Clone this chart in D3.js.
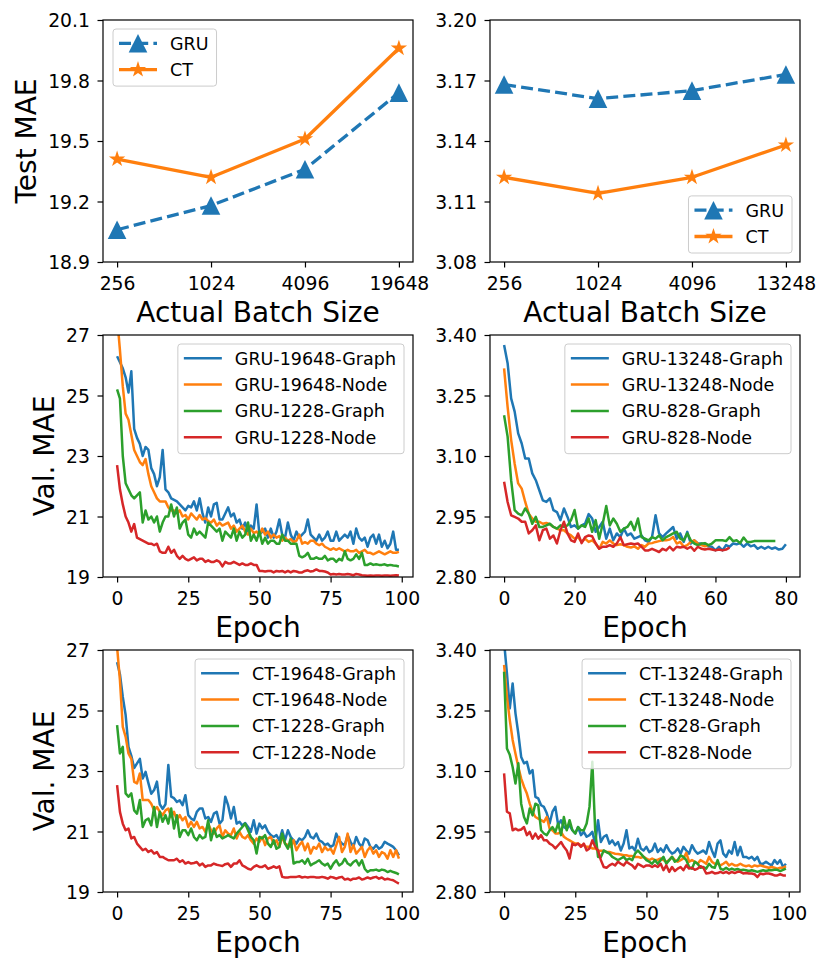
<!DOCTYPE html>
<html>
<head>
<meta charset="utf-8">
<script src="https://cdn.jsdelivr.net/npm/d3@7"></script>
<style>
  body { margin: 0; background: #fff; }
  svg { display: block; font-family: "DejaVu Sans", sans-serif; }
</style>
</head>
<body>
<div id="chart"></div>
<script>
// ---------- data ----------
const batchLabelsA = ["256", "1024", "4096", "19648"];
const batchLabelsB = ["256", "1024", "4096", "13248"];
const testGruA = [19.06, 19.18, 19.36, 19.74];
const testCtA  = [19.41, 19.32, 19.51, 19.96];
const testGruB = [3.168, 3.161, 3.165, 3.173];
const testCtB  = [3.122, 3.114, 3.122, 3.138];

const yTicksTestA = [18.9, 19.2, 19.5, 19.8, 20.1];
const yTicksTestB = [3.08, 3.11, 3.14, 3.17, 3.20];
const yTicksValA = [19, 21, 23, 25, 27];
const yTicksValB = [2.80, 2.95, 3.10, 3.25, 3.40];
const xTicksEpoch100 = [0, 25, 50, 75, 100];
const xTicksEpoch80 = [0, 20, 40, 60, 80];

// GRU validation curves (left: 19648 / 1228)
const gru19648Graph = [
  26.3, 26.1, 25.9, 25.6, 25.1, 25.8, 23.9, 23.6, 23.4, 23.0,
  23.3, 23.2, 22.6, 22.4, 22.0, 22.3, 23.2, 21.9, 21.8, 21.6,
  21.55, 21.5, 21.4, 21.3, 21.2, 21.35, 21.3, 21.5, 21.2, 21.6,
  21.1, 20.8, 21.3, 21.0, 21.4, 21.45, 20.9, 20.9, 21.1, 21.3,
  21.0, 21.1, 20.8, 20.9, 20.6, 20.8, 20.5, 20.7, 20.6, 21.4,
  20.4, 20.5, 20.6, 20.3, 20.6, 20.3, 20.5, 20.9, 20.4, 20.3,
  20.8, 20.4, 20.2, 20.5, 20.3, 20.4, 20.5, 20.9, 20.4, 20.3,
  20.2, 20.4, 20.2, 20.3, 20.5, 20.2, 20.2, 20.5, 20.2, 20.3,
  20.4, 20.3, 20.5, 20.1, 20.6, 20.3, 20.2, 20.3, 20.0, 20.3,
  20.4, 20.1, 20.4, 20.0, 20.2, 19.95, 20.1, 20.5, 19.9, 19.9
];
const gru19648Node = [
  27.6, 26.5, 25.3, 24.4, 24.2, 23.7, 23.2, 23.0, 22.8, 22.7,
  22.9, 22.4, 22.0, 21.8, 21.6, 21.5, 21.5, 21.5, 21.3, 21.2,
  21.2, 21.1, 21.2, 21.0, 21.05, 20.9, 21.1, 21.0, 20.9, 21.05,
  20.9, 20.95, 20.85, 20.8, 20.9, 20.7, 20.8, 20.7, 20.75, 20.8,
  20.6, 20.7, 20.5, 20.6, 20.7, 20.5, 20.4, 20.6, 20.45, 20.5,
  20.4, 20.6, 20.4, 20.5, 20.3, 20.4, 20.3, 20.35, 20.2, 20.3,
  20.2, 20.25, 20.15, 20.2, 20.4, 20.1, 20.15, 20.1, 20.2, 20.2,
  20.1, 20.05, 20.1, 20.0, 19.95, 19.9, 19.95, 19.9, 19.95, 19.9,
  19.85, 19.9, 19.85, 19.85, 19.9, 19.8, 19.85, 19.9, 19.8, 19.8,
  19.75, 19.8, 19.85, 19.8, 19.75, 19.8, 19.85, 19.8, 19.8, 19.83
];
const gru1228Graph = [
  25.2, 24.9, 23.0, 22.1, 21.9, 21.7, 21.6, 21.7, 21.8, 20.8,
  21.2, 20.9, 21.0, 20.8, 21.0, 20.5, 20.8, 21.0, 21.0, 21.4,
  21.0, 21.3, 20.6, 20.8, 20.9, 20.4, 20.3, 20.6, 20.4, 20.5,
  20.4, 20.3, 20.8, 20.7, 20.6, 20.5, 20.6, 20.2, 20.5, 20.4,
  20.3, 20.6, 20.2, 20.5, 20.3, 20.4, 20.8, 20.2, 20.4, 20.2,
  20.5, 20.1, 20.3, 20.1, 20.2, 20.2, 20.1, 20.1, 20.4, 20.2,
  20.2, 20.1, 20.1, 20.1, 19.7, 19.65, 19.7, 19.8, 19.6, 19.6,
  19.65, 19.6, 19.6, 19.7, 19.55, 19.6, 19.6, 19.5, 19.6, 19.55,
  19.85, 19.6, 19.55, 19.6, 19.75, 19.6, 19.8, 19.4, 19.4, 19.45,
  19.4, 19.42, 19.4, 19.4, 19.42, 19.38, 19.4, 19.38, 19.37, 19.35
];
const gru1228Node = [
  22.7, 21.9, 21.4, 21.0, 20.8, 20.5, 20.75, 20.3, 20.25, 20.2,
  20.15, 20.1, 20.1, 20.05, 20.1, 19.85, 19.8, 19.8, 20.0, 19.8,
  19.9, 19.7, 19.6, 19.7, 19.6, 19.55, 19.6, 19.65, 19.55, 19.6,
  19.6, 19.5, 19.55, 19.5, 19.5, 19.55, 19.5, 19.35, 19.5, 19.45,
  19.45, 19.5, 19.45, 19.4, 19.45, 19.4, 19.4, 19.45, 19.4, 19.4,
  19.2, 19.2, 19.18, 19.2, 19.2, 19.15, 19.2, 19.18, 19.2, 19.15,
  19.2, 19.15, 19.2, 19.18, 19.15, 19.15, 19.2, 19.22, 19.18, 19.2,
  19.25, 19.2, 19.2, 19.18, 19.15, 19.08, 19.1, 19.08, 19.1, 19.08,
  19.08, 19.1, 19.08, 19.06, 19.1, 19.08, 19.06, 19.05, 19.04, 19.05,
  19.04, 19.05, 19.05, 19.04, 19.05, 19.05, 19.04, 19.05, 19.06, 19.05
];

// GRU validation curves (right: 13248 / 828)
const gru13248Graph = [
  3.375, 3.330, 3.243, 3.210, 3.156, 3.131, 3.094, 3.094, 3.057, 3.040,
  3.015, 2.990, 2.986, 2.995, 2.966, 2.961, 2.941, 2.970, 2.949, 2.924,
  2.928, 2.920, 2.928, 2.932, 2.956, 2.945, 2.912, 2.924, 2.937, 2.895,
  2.920, 2.891, 2.908, 2.899, 2.920, 2.903, 2.908, 2.895, 2.899, 2.903,
  2.891, 2.887, 2.899, 2.953, 2.908, 2.899, 2.908, 2.916, 2.924, 2.895,
  2.908, 2.887, 2.912, 2.883, 2.891, 2.883, 2.883, 2.879, 2.876, 2.875,
  2.866, 2.875, 2.866, 2.879, 2.875, 2.883, 2.881, 2.884, 2.875, 2.883,
  2.876, 2.879, 2.870, 2.875, 2.870, 2.875, 2.870, 2.873, 2.868, 2.870,
  2.881
];
const gru13248Node = [
  3.317, 3.222, 3.140, 3.081, 3.032, 3.019, 2.986, 2.957, 2.945, 2.937,
  2.937, 2.932, 2.934, 2.931, 2.924, 2.920, 2.916, 2.916, 2.908, 2.903,
  2.895, 2.899, 2.887, 2.895, 2.887, 2.891, 2.883, 2.870, 2.887, 2.883,
  2.891, 2.883, 2.879, 2.881, 2.879, 2.875, 2.873, 2.876, 2.870, 2.879,
  2.875, 2.883, 2.884, 2.887, 2.889, 2.891, 2.891, 2.893, 2.899, 2.883,
  2.887, 2.875, 2.879, 2.887, 2.891, 2.883, 2.879, 2.876, 2.879
];
const gru828Graph = [
  3.201, 3.148, 3.040, 2.966, 2.957, 2.953, 2.970, 2.957, 2.932, 2.949,
  2.924, 2.924, 2.928, 2.932, 2.924, 2.920, 2.928, 2.924, 2.928, 2.941,
  2.966, 2.920, 2.928, 2.924, 2.945, 2.912, 2.941, 2.895, 2.932, 2.976,
  2.928, 2.945, 2.932, 2.912, 2.920, 2.924, 2.937, 2.916, 2.945, 2.899,
  2.895, 2.891, 2.899, 2.895, 2.903, 2.891, 2.899, 2.903, 2.908, 2.912,
  2.895, 2.891, 2.908, 2.891, 2.883, 2.879, 2.883, 2.884, 2.879, 2.883,
  2.891, 2.891, 2.891, 2.889, 2.899, 2.889, 2.891, 2.884, 2.898, 2.887,
  2.887, 2.889, 2.889, 2.889, 2.889, 2.889, 2.889, 2.889
];
const gru828Node = [
  3.036, 2.986, 2.953, 2.949, 2.945, 2.937, 2.937, 2.908, 2.916, 2.928,
  2.891, 2.916, 2.920, 2.895, 2.903, 2.883, 2.916, 2.937, 2.908, 2.891,
  2.887, 2.908, 2.884, 2.899, 2.903, 2.901, 2.883, 2.870, 2.875, 2.875,
  2.879, 2.875, 2.883, 2.899, 2.879, 2.881, 2.883, 2.881, 2.883, 2.875,
  2.866, 2.866, 2.870, 2.866, 2.862, 2.870, 2.866, 2.875, 2.866, 2.875,
  2.873, 2.875, 2.870, 2.875, 2.865, 2.875, 2.870, 2.868, 2.870, 2.868,
  2.866, 2.868, 2.866, 2.868, 2.873
];

// CT validation curves (left: 19648 / 1228)
const ct19648Graph = [
  26.6, 26.2, 25.45, 24.85, 23.8, 23.5, 23.1, 23.25, 23.4, 22.75,
  22.97, 22.6, 22.25, 22.37, 22.65, 21.9, 21.75, 21.9, 23.2, 22.15,
  22.1, 21.98, 22.03, 21.87, 22.2, 21.54, 21.43, 21.37, 21.65, 21.76,
  21.76, 21.43, 21.48, 21.32, 21.59, 21.65, 21.26, 21.37, 22.15, 21.87,
  21.43, 21.81, 21.26, 21.32, 21.2, 21.28, 21.15, 20.99, 21.37, 20.93,
  21.26, 21.1, 21.2, 20.99, 20.88, 20.82, 20.88, 20.71, 21.04, 20.71,
  21.04, 20.82, 20.71, 20.6, 20.77, 20.71, 20.82, 21.04, 20.82, 20.77,
  20.93, 20.71, 20.66, 20.55, 20.6, 20.49, 20.55, 20.93, 20.71, 20.6,
  20.55, 20.88, 20.66, 20.49, 20.82, 20.6, 20.49, 20.77, 20.71, 20.49,
  20.43, 20.55, 20.43, 20.49, 20.66, 20.6, 20.55, 20.49, 20.38, 20.21
];
const ct19648Node = [
  27.1, 26.0, 24.46, 24.13, 23.58, 23.4, 22.64, 22.59, 22.92, 22.04,
  22.04, 22.04, 21.92, 21.7, 21.81, 21.65, 21.54, 21.7, 21.76, 21.48,
  21.65, 21.37, 21.54, 21.37, 21.48, 21.15, 21.32, 21.15, 21.32, 21.1,
  21.15, 20.99, 21.26, 21.04, 20.93, 21.1, 21.2, 20.82, 21.04, 20.93,
  20.88, 21.1, 20.77, 20.99, 20.82, 20.77, 20.88, 20.71, 20.6, 20.77,
  20.66, 20.82, 20.55, 20.77, 20.82, 20.6, 20.71, 20.49, 20.82, 20.6,
  20.55, 20.49, 20.71, 20.38, 20.55, 20.66, 20.38, 20.6, 20.27, 20.49,
  20.43, 20.6, 20.32, 20.49, 20.38, 20.43, 20.27, 20.55, 20.82, 20.32,
  20.49, 20.93, 20.32, 20.55, 20.27, 20.38, 20.49, 20.16, 20.38, 20.49,
  20.27, 20.38, 20.16, 20.32, 20.27, 20.1, 20.38, 20.16, 20.38, 20.1
];
const ct1228Graph = [
  24.52, 23.58, 23.8, 22.26, 22.15, 22.26, 21.7, 21.59, 22.04, 21.15,
  21.37, 21.43, 21.2, 21.81, 21.15, 21.65, 21.32, 21.54, 21.26, 21.76,
  21.1, 21.54, 20.82, 21.04, 21.04, 20.88, 21.1, 20.82, 20.71, 20.88,
  20.77, 20.82, 21.37, 20.71, 21.1, 20.82, 20.88, 20.77, 20.82, 20.88,
  20.82, 20.77, 20.93, 21.04, 21.15, 21.26, 21.04, 20.82, 20.71, 20.27,
  20.82, 20.77, 20.88, 20.6, 20.49, 20.71, 20.43, 20.49, 20.93, 20.6,
  20.43, 20.77, 19.94, 19.99, 19.99, 20.05, 19.94, 20.1, 19.88, 19.94,
  19.99, 20.05, 19.94, 19.88, 19.94, 19.77, 19.94, 20.05, 19.88, 19.94,
  20.1, 19.94, 19.88, 19.99, 20.05, 19.88, 20.05, 19.77, 19.66, 19.72,
  19.72, 19.74, 19.7, 19.74, 19.72, 19.66, 19.7, 19.66, 19.63, 19.58
];
const ct1228Node = [
  22.53, 21.65, 21.26, 21.04, 21.1, 20.77, 20.82, 20.6, 20.49, 20.38,
  20.43, 20.32, 20.38, 20.27, 20.32, 20.16, 20.16, 20.1, 20.05, 20.05,
  20.05, 20.1, 19.99, 20.05, 19.94, 19.99, 19.94, 19.96, 19.99, 19.88,
  19.94, 19.83, 19.88, 19.88, 19.94, 19.9, 19.88, 19.86, 19.92, 19.94,
  19.83, 19.94, 19.94, 20.05, 19.88, 19.83, 19.77, 19.74, 19.83, 19.88,
  19.83, 19.83, 19.88, 19.77, 19.8, 19.85, 19.8, 19.85, 19.5, 19.48,
  19.48, 19.5, 19.5, 19.5, 19.52, 19.48, 19.5, 19.48, 19.5, 19.5,
  19.48, 19.48, 19.5, 19.48, 19.44, 19.5, 19.48, 19.44, 19.48, 19.5,
  19.41, 19.44, 19.39, 19.44, 19.44, 19.48, 19.41, 19.44, 19.48, 19.44,
  19.48, 19.5, 19.44, 19.48, 19.41, 19.44, 19.41, 19.39, 19.33, 19.28
];

// CT validation curves (right: 13248 / 828)
const ct13248Graph = [
  3.420, 3.342, 3.255, 3.317, 3.243, 3.193, 3.135, 3.119, 3.123, 3.094,
  3.102, 3.036, 3.032, 3.015, 3.011, 2.995, 2.970, 2.999, 3.011, 2.966,
  2.978, 2.961, 2.957, 2.966, 2.953, 2.945, 2.961, 2.941, 2.949, 2.937,
  2.941, 2.949, 2.920, 2.978, 2.924, 2.937, 2.941, 2.920, 2.928, 2.916,
  2.924, 2.903, 2.920, 2.953, 2.908, 2.912, 2.903, 2.932, 2.908, 2.903,
  2.912, 2.899, 2.903, 2.920, 2.899, 2.908, 2.899, 2.916, 2.903, 2.895,
  2.899, 2.908, 2.895, 2.912, 2.903, 2.895, 2.916, 2.903, 2.895, 2.899,
  2.903, 2.895, 2.924, 2.903, 2.887, 2.920, 2.928, 2.895, 2.887, 2.903,
  2.895, 2.924, 2.891, 2.912, 2.887, 2.887, 2.883, 2.887, 2.879, 2.887,
  2.870, 2.870, 2.875, 2.870, 2.866, 2.879, 2.870, 2.879, 2.862, 2.870
];
const ct13248Node = [
  3.363, 3.284, 3.226, 3.177, 3.143, 3.110, 3.081, 3.061, 3.044, 3.019,
  2.999, 2.986, 2.982, 2.978, 2.974, 2.986, 2.957, 2.953, 2.945, 2.945,
  2.949, 2.937, 2.932, 2.928, 2.924, 2.920, 2.920, 2.916, 2.916, 2.912,
  2.912, 2.908, 2.908, 2.903, 2.902, 2.902, 2.899, 2.899, 2.897, 2.895,
  2.894, 2.893, 2.891, 2.891, 2.889, 2.889, 2.887, 2.887, 2.885, 2.887,
  2.883, 2.879, 2.883, 2.879, 2.880, 2.883, 2.879, 2.875, 2.879, 2.887,
  2.879, 2.875, 2.879, 2.883, 2.897, 2.875, 2.879, 2.875, 2.870, 2.879,
  2.875, 2.870, 2.887, 2.875, 2.870, 2.870, 2.866, 2.870, 2.875, 2.866,
  2.870, 2.866, 2.866, 2.870, 2.866, 2.864, 2.866, 2.862, 2.866, 2.864,
  2.866, 2.864, 2.862, 2.860, 2.862, 2.860, 2.858, 2.860, 2.860, 2.864
];
const ct828Graph = [
  3.346, 3.156, 3.140, 3.110, 3.069, 3.119, 3.019, 2.986, 2.970, 3.007,
  2.990, 3.019, 3.015, 2.953, 2.945, 2.941, 2.953, 2.961, 2.949, 2.970,
  2.941, 2.986, 2.953, 2.978, 2.953, 2.945, 2.961, 2.953, 2.953, 2.970,
  3.011, 3.123, 2.953, 2.887, 2.887, 2.903, 2.899, 2.895, 2.887, 2.883,
  2.879, 2.883, 2.887, 2.879, 2.883, 2.879, 2.895, 2.903, 2.895, 2.887,
  2.879, 2.875, 2.870, 2.879, 2.870, 2.879, 2.887, 2.870, 2.879, 2.887,
  2.875, 2.879, 2.891, 2.887, 2.879, 2.862, 2.858, 2.875, 2.870, 2.860,
  2.862, 2.858, 2.870, 2.862, 2.860, 2.879, 2.858, 2.855, 2.860, 2.855,
  2.858, 2.855, 2.857, 2.854, 2.855, 2.854, 2.852, 2.854, 2.852, 2.850,
  2.852, 2.854, 2.852, 2.854, 2.854, 2.855, 2.855, 2.852, 2.855, 2.858
];
const ct828Node = [
  3.094, 2.999, 2.995, 2.953, 2.957, 2.953, 2.955, 2.961, 2.941, 2.949,
  2.932, 2.945, 2.932, 2.941, 2.928, 2.928, 2.920, 2.916, 2.908, 2.916,
  2.924, 2.912, 2.903, 2.883, 2.920, 2.916, 2.920, 2.912, 2.920, 2.903,
  2.908, 2.928, 2.912, 2.903, 2.879, 2.862, 2.860, 2.866, 2.870, 2.866,
  2.875, 2.870, 2.866, 2.875, 2.870, 2.866, 2.858, 2.870, 2.866, 2.862,
  2.866, 2.866, 2.862, 2.866, 2.862, 2.870, 2.854, 2.866, 2.850, 2.862,
  2.852, 2.858, 2.862, 2.854, 2.866, 2.858, 2.860, 2.855, 2.858, 2.864,
  2.860, 2.846, 2.847, 2.850, 2.846, 2.847, 2.850, 2.847, 2.850, 2.846,
  2.850, 2.847, 2.850, 2.850, 2.846, 2.847, 2.846, 2.846, 2.844, 2.837,
  2.846, 2.844, 2.846, 2.846, 2.844, 2.841, 2.841, 2.844, 2.841, 2.841
];

// ---------- layout ----------
const W = 830, H = 971;
const colX = [103, 490];
const rowY = [20, 335, 650];
const PW = 310, PH = 242;
const C = { blue: "#1f77b4", orange: "#ff7f0e", green: "#2ca02c", red: "#d62728" };
const TICK_FS = 18.8, LABEL_FS = 28, LEGEND_FS = 17.5;

const svg = d3.select("#chart").append("svg").attr("width", W).attr("height", H);
svg.append("rect").attr("width", W).attr("height", H).attr("fill", "#fff");
const defs = svg.append("defs");

function markerPath(type) {
  if (type === "tri") return "M0,-9.3L9.3,9.3L-9.3,9.3Z";
  const pts = d3.range(10).map(k => {
    const r = k % 2 ? 8.6 * 0.382 : 8.6;
    const a = -Math.PI / 2 + k * Math.PI / 5;
    return [r * Math.cos(a), r * Math.sin(a)];
  });
  return "M" + pts.join("L") + "Z";
}

function drawPanel(o) {
  const g = svg.append("g").attr("transform", `translate(${o.left},${o.top})`);
  const x = d3.scaleLinear().domain(o.xDomain).range([0, PW]);
  const y = d3.scaleLinear().domain(o.yDomain).range([PH, 0]);

  defs.append("clipPath").attr("id", "clip-" + o.id)
    .append("rect").attr("width", PW).attr("height", PH);
  const plot = g.append("g").attr("clip-path", `url(#clip-${o.id})`);

  const xAxis = g.append("g").attr("transform", `translate(0,${PH})`)
    .call(d3.axisBottom(x).tickValues(o.xTicks).tickFormat(o.xFmt).tickSize(5.5).tickSizeOuter(0));
  const yAxis = g.append("g")
    .call(d3.axisLeft(y).tickValues(o.yTicks).tickFormat(o.yFmt).tickSize(5.5).tickSizeOuter(0));

  [xAxis, yAxis].forEach(a => {
    a.attr("font-family", null).attr("font-size", null);
    a.select(".domain").remove();
    a.selectAll(".tick line").attr("stroke", "#000").attr("stroke-width", 1.2);
    a.selectAll(".tick text").attr("fill", "#000").style("font-size", TICK_FS + "px");
  });
  xAxis.selectAll(".tick text").attr("y", 28).attr("dy", null);
  yAxis.selectAll(".tick text").attr("x", -13).attr("dy", "0.36em");

  g.append("rect").attr("width", PW).attr("height", PH)
    .attr("fill", "none").attr("stroke", "#000").attr("stroke-width", 1.2);

  g.append("text")
    .attr("x", PW / 2).attr("y", PH + 59.5)
    .attr("text-anchor", "middle")
    .style("font-size", LABEL_FS + "px")
    .text(o.xLabel);

  if (o.yLabel) {
    const bb = yAxis.node().getBBox();
    g.append("text")
      .attr("transform", `translate(${bb.x - 12.5},${PH / 2}) rotate(-90)`)
      .attr("text-anchor", "middle")
      .style("font-size", LABEL_FS + "px")
      .text(o.yLabel);
  }
  return { g, plot, x, y };
}

function drawLegend(g, items, pos) {
  const lg = g.append("g");
  const rowH = 26.3, handleLen = 38, gap = 13, padL = 6, padR = 8, topOff = 14.3, botOff = 16.5;

  const texts = items.map(it => lg.append("text").style("font-size", LEGEND_FS + "px").text(it.label));
  const tw = d3.max(texts, t => t.node().getComputedTextLength());
  const bw = padL + handleLen + gap + tw + padR;
  const bh = topOff + (items.length - 1) * rowH + botOff;

  let bx, by;
  if (pos === "ur") { bx = PW - 9 - bw; by = 9; }
  else if (pos === "ul") { bx = 10; by = 9; }
  else { bx = PW - 8 - bw; by = PH - 9 - bh; }

  lg.insert("rect", ":first-child")
    .attr("x", bx).attr("y", by).attr("width", bw).attr("height", bh)
    .attr("rx", 3).attr("fill", "#fff").attr("fill-opacity", 0.8)
    .attr("stroke", "#cccccc").attr("stroke-width", 1);

  items.forEach((it, i) => {
    const cy = by + topOff + i * rowH;
    const hx = bx + padL;
    lg.insert("line", "text")
      .attr("x1", hx).attr("x2", hx + handleLen).attr("y1", cy).attr("y2", cy)
      .attr("stroke", it.color).attr("stroke-width", it.lw)
      .attr("stroke-dasharray", it.dash || null);
    if (it.marker) {
      lg.insert("path", "text")
        .attr("d", markerPath(it.marker))
        .attr("transform", `translate(${hx + handleLen / 2},${cy})`)
        .attr("fill", it.color);
    }
    texts[i].attr("x", hx + handleLen + gap).attr("y", cy).attr("dy", "0.36em").attr("fill", "#000");
  });
}

// ---------- top row: test MAE vs batch size ----------
function drawTestPanel(id, col, labels, yTicks, yFmt, gru, ct, legendPos, yLabel) {
  const p = drawPanel({
    id, left: colX[col], top: rowY[0],
    xDomain: [-0.15, labels.length - 1 + 0.15],
    yDomain: d3.extent(yTicks),
    xTicks: d3.range(labels.length), xFmt: i => labels[i],
    yTicks, yFmt, xLabel: "Actual Batch Size", yLabel
  });
  const line = d3.line().x((d, i) => p.x(i)).y(d => p.y(d));
  const series = [
    { vals: gru, color: C.blue, dash: "12,5.2", marker: "tri" },
    { vals: ct, color: C.orange, dash: null, marker: "star" }
  ];
  series.forEach(s => {
    p.plot.append("path").datum(s.vals)
      .attr("d", line).attr("fill", "none")
      .attr("stroke", s.color).attr("stroke-width", 3.3)
      .attr("stroke-linejoin", "round")
      .attr("stroke-dasharray", s.dash);
    p.g.append("g").selectAll("path").data(s.vals).join("path")
      .attr("d", markerPath(s.marker))
      .attr("transform", (d, i) => `translate(${p.x(i)},${p.y(d)})`)
      .attr("fill", s.color);
  });
  drawLegend(p.g, [
    { label: "GRU", color: C.blue, lw: 3.3, dash: "12,5.2", marker: "tri" },
    { label: "CT", color: C.orange, lw: 3.3, marker: "star" }
  ], legendPos);
}

drawTestPanel("ta", 0, batchLabelsA, yTicksTestA, d3.format(".1f"), testGruA, testCtA, "ul", "Test MAE");
drawTestPanel("tb", 1, batchLabelsB, yTicksTestB, d3.format(".2f"), testGruB, testCtB, "lr", null);

// ---------- validation curves ----------
function drawCurvePanel(id, col, row, series, yTicks, yFmt, xTicks, yLabel) {
  const maxI = d3.max(series, s => s.vals.length - 1);
  const p = drawPanel({
    id, left: colX[col], top: rowY[row],
    xDomain: [-0.05 * maxI, maxI * 1.05],
    yDomain: d3.extent(yTicks),
    xTicks, xFmt: d3.format("d"),
    yTicks, yFmt, xLabel: "Epoch", yLabel
  });
  const line = d3.line().x((d, i) => p.x(i)).y(d => p.y(d));
  p.plot.selectAll("path.curve").data(series).join("path")
    .attr("class", "curve")
    .attr("d", s => line(s.vals))
    .attr("fill", "none")
    .attr("stroke", s => s.color)
    .attr("stroke-width", 2.5)
    .attr("stroke-linejoin", "round");
  drawLegend(p.g, series.map(s => ({ label: s.label, color: s.color, lw: 2.5 })), "ur");
}

drawCurvePanel("ga", 0, 1, [
  { label: "GRU-19648-Graph", color: C.blue, vals: gru19648Graph },
  { label: "GRU-19648-Node", color: C.orange, vals: gru19648Node },
  { label: "GRU-1228-Graph", color: C.green, vals: gru1228Graph },
  { label: "GRU-1228-Node", color: C.red, vals: gru1228Node }
], yTicksValA, d3.format("d"), xTicksEpoch100, "Val. MAE");

drawCurvePanel("gb", 1, 1, [
  { label: "GRU-13248-Graph", color: C.blue, vals: gru13248Graph },
  { label: "GRU-13248-Node", color: C.orange, vals: gru13248Node },
  { label: "GRU-828-Graph", color: C.green, vals: gru828Graph },
  { label: "GRU-828-Node", color: C.red, vals: gru828Node }
], yTicksValB, d3.format(".2f"), xTicksEpoch80, null);

drawCurvePanel("ca", 0, 2, [
  { label: "CT-19648-Graph", color: C.blue, vals: ct19648Graph },
  { label: "CT-19648-Node", color: C.orange, vals: ct19648Node },
  { label: "CT-1228-Graph", color: C.green, vals: ct1228Graph },
  { label: "CT-1228-Node", color: C.red, vals: ct1228Node }
], yTicksValA, d3.format("d"), xTicksEpoch100, "Val. MAE");

drawCurvePanel("cb", 1, 2, [
  { label: "CT-13248-Graph", color: C.blue, vals: ct13248Graph },
  { label: "CT-13248-Node", color: C.orange, vals: ct13248Node },
  { label: "CT-828-Graph", color: C.green, vals: ct828Graph },
  { label: "CT-828-Node", color: C.red, vals: ct828Node }
], yTicksValB, d3.format(".2f"), xTicksEpoch100, null);
</script>
</body>
</html>
